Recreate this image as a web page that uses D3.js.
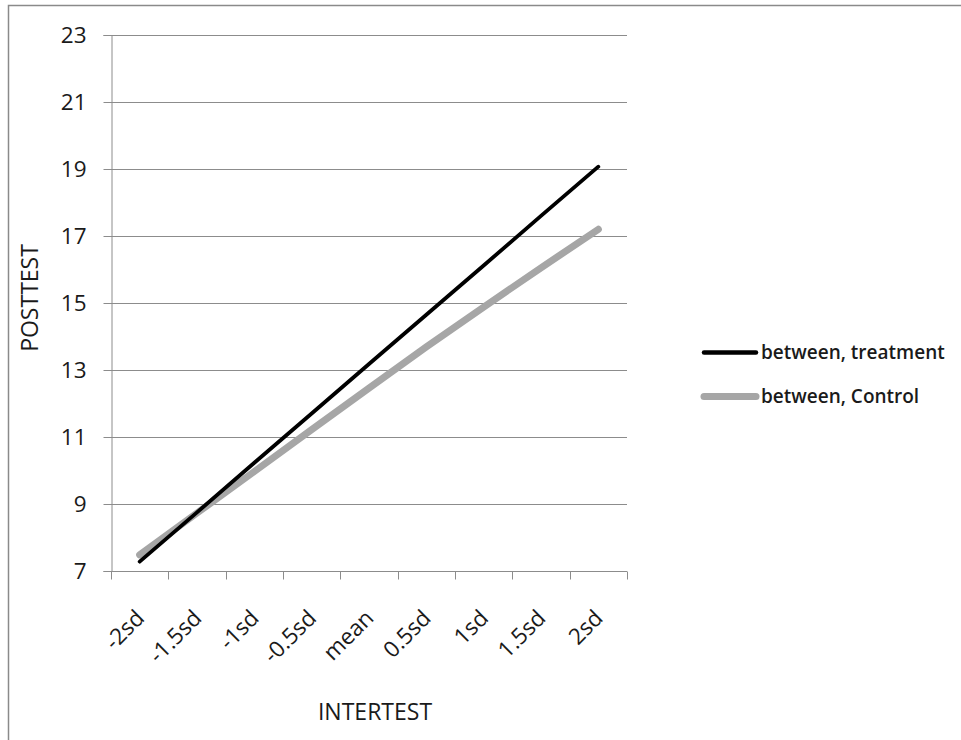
<!DOCTYPE html>
<html>
<head>
<meta charset="utf-8">
<script src="https://cdn.jsdelivr.net/npm/d3@7"></script>
<style>
  html, body { margin: 0; padding: 0; background: #fff; }
  svg { display: block; }
  text { font-family: "Open Sans", "DejaVu Sans", sans-serif; fill: #1a1a1a; }
</style>
</head>
<body>
<svg id="chart" width="961" height="740"></svg>
<script>
const categories = ["-2sd", "-1.5sd", "-1sd", "-0.5sd", "mean", "0.5sd", "1sd", "1.5sd", "2sd"];
const treatment = [7.28, 8.75, 10.23, 11.70, 13.18, 14.65, 16.12, 17.60, 19.07];
const control = [7.48, 8.73, 9.97, 11.22, 12.46, 13.69, 14.88, 16.05, 17.20];
const yTicks = [7, 9, 11, 13, 15, 17, 19, 21, 23];
const seriesNames = ["between, treatment", "between, Control"];
const xTitle = "INTERTEST";
const yTitle = "POSTTEST";

const svg = d3.select("#chart");
const pLeft = 111, pRight = 627, pTop = 35, pBottom = 571;

// outer chart border
svg.append("path")
  .attr("d", `M8.5,745 V5.5 H966`)
  .attr("fill", "none").attr("stroke", "#8a8a8a").attr("stroke-width", 1.5);

const x = d3.scaleBand().domain(categories).range([pLeft, pRight]).paddingInner(0).paddingOuter(0);
const y = d3.scaleLinear().domain([7, 23]).range([pBottom, pTop]);
const cx = c => x(c) + x.bandwidth() / 2;

// gridlines
svg.append("g").selectAll("line").data(yTicks.filter(t => t !== 7)).join("line")
  .attr("x1", pLeft).attr("x2", pRight)
  .attr("y1", d => Math.round(y(d)) + 0.5).attr("y2", d => Math.round(y(d)) + 0.5)
  .attr("stroke", "#8c8c8c").attr("stroke-width", 1);

// y axis
const yAxis = d3.axisLeft(y).tickValues(yTicks).tickSize(8).tickPadding(17).tickFormat(d3.format("d"));
const gy = svg.append("g").attr("transform", `translate(${pLeft + 0.5},0)`).call(yAxis);
gy.select(".domain").attr("stroke", "#8c8c8c");
gy.selectAll(".tick line").attr("stroke", "#8c8c8c");
gy.selectAll(".tick text").style("font-size", "22.5px").attr("fill", "#1a1a1a");
gy.selectAll(".tick").attr("transform", d => `translate(0,${Math.round(y(d)) + 0.5})`);

// x axis (ticks between categories)
const gx = svg.append("g").attr("transform", `translate(0,${pBottom + 0.5})`);
gx.append("line").attr("x1", pLeft).attr("x2", pRight).attr("stroke", "#8c8c8c");
const boundaries = categories.map(c => x(c)).concat([pRight]);
gx.selectAll("line.tk").data(boundaries).join("line").attr("class", "tk")
  .attr("x1", d => Math.round(d) + 0.5).attr("x2", d => Math.round(d) + 0.5)
  .attr("y1", 0).attr("y2", 8).attr("stroke", "#8c8c8c");
gx.selectAll("text").data(categories).join("text")
  .attr("transform", d => `translate(${cx(d) + 6},${48}) rotate(-45)`)
  .attr("text-anchor", "end")
  .style("font-size", "22.5px")
  .text(d => d);

// lines
const line = d3.line().x((d, i) => cx(categories[i])).y(d => y(d));
svg.append("path").datum(control).attr("d", line)
  .attr("fill", "none").attr("stroke", "#a6a6a6").attr("stroke-width", 7)
  .attr("stroke-linecap", "round").attr("stroke-linejoin", "round");
svg.append("path").datum(treatment).attr("d", line)
  .attr("fill", "none").attr("stroke", "#000").attr("stroke-width", 3.8)
  .attr("stroke-linecap", "round").attr("stroke-linejoin", "round");

// axis titles
svg.append("text").attr("x", 375).attr("y", 720).attr("text-anchor", "middle")
  .style("font-size", "23px").text(xTitle);
svg.append("text").attr("transform", `translate(38,298) rotate(-90)`)
  .attr("text-anchor", "middle").style("font-size", "23px").text(yTitle);

// legend
const legColors = ["#000", "#a6a6a6"];
const legWidths = [4.5, 7];
const legY = [352.5, 396.5];
const lg = svg.append("g");
seriesNames.forEach((name, i) => {
  lg.append("line").attr("x1", 704).attr("x2", 756).attr("y1", legY[i]).attr("y2", legY[i])
    .attr("stroke", legColors[i]).attr("stroke-width", legWidths[i]).attr("stroke-linecap", "round");
  lg.append("text").attr("x", 761).attr("y", legY[i] + 6.5)
    .style("font-size", "19px").style("font-weight", "600").text(name);
});
</script>
</body>
</html>
